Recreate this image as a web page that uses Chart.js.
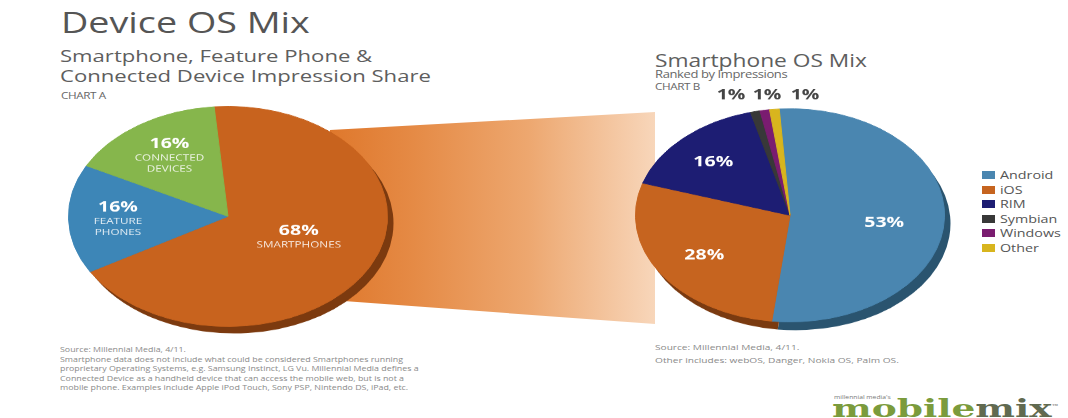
<!DOCTYPE html>
<html>
<head>
<meta charset="utf-8">
<script src="https://cdn.jsdelivr.net/npm/chart.js@4"></script>
<style>
  body { margin: 0; background: #fff; width: 1068px; height: 418px; overflow: hidden; position: relative; font-family: "Open Sans", sans-serif; color: #5b5b5b; }
  .abs { position: absolute; white-space: nowrap; transform-origin: 0 0; }
  .wide { transform: scaleX(1.3); }
  .pie { position: absolute; transform-origin: 0 0; transform: scaleY(0.69); }
  #band { position: absolute; left: 330px; top: 108px; width: 330px; height: 222px;
          background: linear-gradient(to right, #df782c 0%, #e58a45 25%, #eda76f 60%, #f8d8bd 100%);
          clip-path: polygon(0 22px, 325px 4px, 325px 216px, 0 192px); }
  .note { color: #8a8a8a; }
  #legend div { height: 14.5px; font-size: 11px; line-height: 14.5px; color: #555; }
  #legend span.sw { display: inline-block; width: 13px; height: 8px; margin-right: 5px; }
  #legend span.tx { display: inline-block; transform: scaleX(1.3); transform-origin: 0 50%; }
</style>
</head>
<body>
<div id="band"></div>

<div class="abs wide" style="left:61px;top:2px;font-size:29px;color:#555;">Device OS Mix</div>
<div class="abs wide" style="left:60px;top:46px;font-size:17px;line-height:20px;color:#5e5e5e;">Smartphone, Feature Phone &amp;<br>Connected Device Impression Share</div>
<div class="abs wide" style="left:61px;top:89px;font-size:9px;color:#666;letter-spacing:-0.3px;">CHART A</div>

<div class="abs wide" style="left:655px;top:48px;font-size:17.5px;color:#5e5e5e;">Smartphone OS Mix</div>
<div class="abs wide" style="left:655px;top:67px;font-size:10px;color:#666;letter-spacing:-0.3px;">Ranked by Impressions</div>
<div class="abs wide" style="left:655px;top:80px;font-size:9px;color:#666;letter-spacing:-0.3px;">CHART B</div>

<div class="pie" style="left:68px;top:106px;"><canvas id="chartA" width="328" height="336"></canvas></div>
<div class="pie" style="left:635px;top:78px;"><canvas id="chartB" width="318" height="370"></canvas></div>

<div id="legend" class="abs" style="left:982px;top:168px;"></div>

<div class="abs note wide" style="left:60px;top:345px;font-size:6.8px;line-height:9.6px;">Source: Millennial Media, 4/11.<br>Smartphone data does not include what could be considered Smartphones running<br>proprietary Operating Systems, e.g. Samsung Instinct, LG Vu. Millennial Media defines a<br>Connected Device as a handheld device that can access the mobile web, but is not a<br>mobile phone. Examples include Apple iPod Touch, Sony PSP, Nintendo DS, iPad, etc.</div>
<div class="abs note wide" style="left:655px;top:341px;font-size:7.8px;line-height:13.4px;">Source: Millennial Media, 4/11.<br>Other includes: webOS, Danger, Nokia OS, Palm OS.</div>

<div class="abs wide" style="left:834px;top:394px;font-size:4.5px;color:#777;transform:scaleX(1.5);">millennial media's</div>
<div class="abs" style="left:832px;top:394px;font-family:'DejaVu Serif',serif;font-weight:bold;font-size:25px;line-height:25px;transform:scaleX(1.5);"><span style="color:#7b9b3c;">mobile</span><span style="color:#616a50;">mix</span><sup style="font-size:5px;color:#777;">™</sup></div>

<script>
// chart A: device type share
const deviceLabels = ['Smartphones', 'Feature Phones', 'Connected Devices'];
const deviceNames = [['SMARTPHONES'], ['FEATURE', 'PHONES'], ['CONNECTED', 'DEVICES']];
const deviceShare = [68, 16, 16];
const deviceColors = ['#c8631e', '#3d86b7', '#86b64c'];
const deviceShadow = ['#7c3a0f', '#22506f', '#4f7229'];

// chart B: smartphone OS share
const osLabels = ['Android', 'iOS', 'RIM', 'Symbian', 'Windows', 'Other'];
const osShare = [53, 28, 16, 1, 1, 1];
const osColors = ['#4a86b0', '#c6641f', '#1d1d73', '#383838', '#7a1c70', '#d8b51e'];
const osShadow = ['#2a546f', '#7a3a10', '#10104a', '#222', '#4a1044', '#8a7010'];

const SY = 0.69;  // vertical squash of the pies
const SX = 1.3;   // horizontal stretch of the text

const pieDecor = {
  id: 'pieDecor',
  beforeDatasetsDraw(chart, args, opts) {
    const ctx = chart.ctx;
    const meta = chart.getDatasetMeta(0);
    ctx.save();
    meta.data.forEach((arc, i) => {
      const p = arc.getProps(['x', 'y', 'startAngle', 'endAngle', 'outerRadius'], true);
      const x = p.x + opts.dx, y = p.y + opts.dy;
      ctx.beginPath();
      ctx.moveTo(x, y);
      ctx.arc(x, y, p.outerRadius, p.startAngle, p.endAngle);
      ctx.closePath();
      ctx.fillStyle = opts.shadow[i];
      ctx.fill();
    });
    ctx.restore();
  },
  afterDatasetsDraw(chart, args, opts) {
    const ctx = chart.ctx;
    const meta = chart.getDatasetMeta(0);
    const values = chart.data.datasets[0].data;
    let k = 0;
    meta.data.forEach((arc, i) => {
      const p = arc.getProps(['x', 'y', 'startAngle', 'endAngle', 'outerRadius'], true);
      const mid = (p.startAngle + p.endAngle) / 2;
      let x, y, color = '#fff';
      if (values[i] <= opts.smallMax) {
        x = p.x + opts.smallX[k++];
        y = p.y + opts.smallY / SY;
        color = '#444';
      } else {
        x = p.x + Math.cos(mid) * p.outerRadius * opts.dist[i];
        y = p.y + Math.sin(mid) * p.outerRadius * opts.dist[i] + (opts.shiftY ? opts.shiftY[i] / SY : 0);
      }
      const lines = opts.names ? opts.names[i] : [];
      ctx.save();
      ctx.translate(x, y);
      ctx.scale(SX, 1 / SY);
      ctx.textAlign = 'center';
      ctx.textBaseline = 'middle';
      ctx.fillStyle = color;
      const off = -lines.length * 6;
      ctx.font = 'bold ' + opts.pctSize + 'px "Open Sans", sans-serif';
      ctx.fillText(values[i] + '%', 0, off);
      ctx.font = '9px "Open Sans", sans-serif';
      ctx.fillStyle = 'rgba(255,255,255,0.85)';
      lines.forEach((t, j) => ctx.fillText(t, 0, off + 14 + j * 11));
      ctx.restore();
    });
  }
};

function pieChart(id, labels, data, colors, extra) {
  return new Chart(document.getElementById(id), {
    type: 'pie',
    data: {
      labels: labels,
      datasets: [{
        data: data,
        backgroundColor: colors,
        borderColor: colors,
        borderWidth: 1
      }]
    },
    options: {
      responsive: false,
      animation: false,
      rotation: extra.rotation,
      layout: { padding: extra.padding },
      plugins: {
        legend: { display: false },
        tooltip: { enabled: false },
        pieDecor: extra.decor
      }
    },
    plugins: [pieDecor]
  });
}

pieChart('chartA', deviceLabels, deviceShare, deviceColors, {
  rotation: -5,
  padding: { right: 8, bottom: 16 },
  decor: { dx: 6, dy: 10, shadow: deviceShadow, names: deviceNames, dist: [0.5, 0.69, 0.66], shiftY: [-5, 1, 0], pctSize: 15, smallMax: 0 }
});

pieChart('chartB', osLabels, osShare, osColors, {
  rotation: -4,
  padding: { top: 44, right: 8, bottom: 16 },
  decor: { dx: 6, dy: 12, shadow: osShadow, dist: [0.61, 0.66, 0.72], shiftY: [6, 2, 2], pctSize: 15, smallMax: 1, smallX: [-59, -23, 15], smallY: -120 }
});

// html legend for chart B
const legend = document.getElementById('legend');
osLabels.forEach((name, i) => {
  const row = document.createElement('div');
  row.innerHTML = '<span class="sw" style="background:' + osColors[i] + '"></span><span class="tx">' + name + '</span>';
  legend.appendChild(row);
});
</script>
</body>
</html>
